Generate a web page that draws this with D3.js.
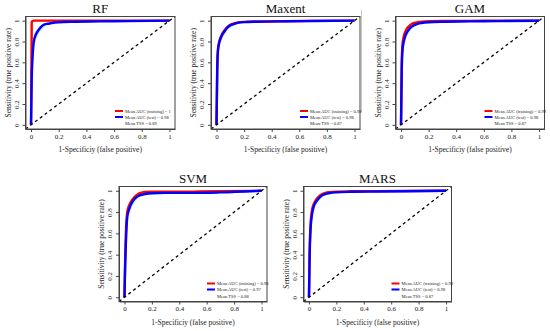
<!DOCTYPE html>
<html>
<head>
<meta charset="utf-8">
<script src="https://cdn.jsdelivr.net/npm/d3@7"></script>
<style>
  body { margin: 0; background: #fff; }
  svg { display: block; }
  svg text { font-family: "Times New Roman", "Liberation Serif", Times, serif; }
</style>
</head>
<body>
<svg id="chart" width="550" height="331"></svg>
<script>
// ---------------------------------------------
// DATA

var models = ["RF", "Maxent", "GAM", "SVM", "MARS"];
var ticks = [0, 0.2, 0.4, 0.6, 0.8, 1];
var tickLabels = ["0", "0.2", "0.4", "0.6", "0.8", "1"];

// false positive rate grid shared by every curve
var fpr = [0, 0.005, 0.01, 0.02, 0.03, 0.04, 0.06, 0.08, 0.1, 0.12, 0.15, 0.2, 0.3, 0.5, 0.7, 1];

var trainRF = [0, 0.99, 0.995, 1, 1, 1, 1, 1, 1, 1, 1, 1, 1, 1, 1, 1];
var testRF  = [0, 0.45, 0.62, 0.8, 0.85, 0.88, 0.92, 0.95, 0.965, 0.97, 0.978, 0.985, 0.99, 0.993, 0.996, 1];
var lowRF   = [0, 0.3, 0.5, 0.72, 0.79, 0.83, 0.88, 0.92, 0.945, 0.958, 0.968, 0.98, 0.987, 0.99, 0.994, 1];
var highRF  = [0, 0.6, 0.72, 0.86, 0.9, 0.92, 0.945, 0.965, 0.978, 0.982, 0.986, 0.99, 0.993, 0.996, 0.998, 1];

var trainMaxent = [0, 0.55, 0.72, 0.8, 0.84, 0.87, 0.91, 0.94, 0.96, 0.97, 0.98, 0.988, 0.992, 0.995, 0.998, 1];
var testMaxent  = [0, 0.5, 0.7, 0.79, 0.83, 0.86, 0.9, 0.935, 0.955, 0.965, 0.978, 0.986, 0.99, 0.994, 0.997, 1];
var lowMaxent   = [0, 0.4, 0.62, 0.73, 0.78, 0.82, 0.87, 0.91, 0.935, 0.95, 0.965, 0.98, 0.987, 0.992, 0.996, 1];
var highMaxent  = [0, 0.6, 0.77, 0.85, 0.88, 0.9, 0.93, 0.955, 0.975, 0.985, 0.99, 0.993, 0.995, 0.997, 0.999, 1];

var trainGAM = [0, 0.6, 0.76, 0.85, 0.89, 0.92, 0.95, 0.97, 0.98, 0.985, 0.99, 0.995, 0.997, 0.998, 0.999, 1];
var testGAM  = [0, 0.5, 0.7, 0.8, 0.85, 0.88, 0.92, 0.945, 0.96, 0.97, 0.978, 0.985, 0.99, 0.993, 0.996, 1];
var lowGAM   = [0, 0.4, 0.62, 0.74, 0.8, 0.84, 0.89, 0.92, 0.94, 0.955, 0.968, 0.978, 0.985, 0.99, 0.994, 1];
var highGAM  = [0, 0.6, 0.76, 0.85, 0.88, 0.91, 0.94, 0.96, 0.975, 0.982, 0.988, 0.992, 0.995, 0.997, 0.998, 1];

var trainSVM = [0, 0.35, 0.6, 0.8, 0.85, 0.88, 0.92, 0.95, 0.97, 0.98, 0.988, 0.99, 0.99, 0.992, 0.995, 1];
var testSVM  = [0, 0.3, 0.5, 0.75, 0.81, 0.85, 0.9, 0.93, 0.95, 0.96, 0.97, 0.977, 0.98, 0.98, 0.985, 1];
var lowSVM   = [0, 0.2, 0.4, 0.68, 0.76, 0.8, 0.86, 0.9, 0.93, 0.945, 0.958, 0.968, 0.972, 0.975, 0.982, 1];
var highSVM  = [0, 0.45, 0.62, 0.82, 0.86, 0.89, 0.93, 0.955, 0.97, 0.978, 0.984, 0.988, 0.99, 0.99, 0.992, 1];

var trainMARS = [0, 0.45, 0.65, 0.8, 0.86, 0.89, 0.93, 0.955, 0.97, 0.98, 0.987, 0.992, 0.995, 0.997, 0.998, 1];
var testMARS  = [0, 0.4, 0.6, 0.76, 0.83, 0.87, 0.91, 0.94, 0.96, 0.97, 0.978, 0.985, 0.99, 0.993, 0.996, 1];
var lowMARS   = [0, 0.3, 0.5, 0.7, 0.78, 0.83, 0.88, 0.92, 0.94, 0.955, 0.967, 0.978, 0.985, 0.99, 0.994, 1];
var highMARS  = [0, 0.5, 0.7, 0.83, 0.88, 0.91, 0.94, 0.96, 0.975, 0.983, 0.988, 0.992, 0.995, 0.997, 0.998, 1];

// legend values
var aucTrain = ["1", "0.98", "0.99", "0.98", "0.98"];
var aucTest  = ["0.98", "0.98", "0.98", "0.97", "0.98"];
var tss      = ["0.89", "0.87", "0.87", "0.88", "0.87"];

var curves = {
  RF:     [trainRF, testRF, lowRF, highRF],
  Maxent: [trainMaxent, testMaxent, lowMaxent, highMaxent],
  GAM:    [trainGAM, testGAM, lowGAM, highGAM],
  SVM:    [trainSVM, testSVM, lowSVM, highSVM],
  MARS:   [trainMARS, testMARS, lowMARS, highMARS]
};

// ---------------------------------------------
// LAYOUT (plot box of each panel)

var boxes = [
  {x: 25.5,  y: 16.5,  w: 149.5, h: 112.5},
  {x: 211,   y: 16.5,  w: 149,   h: 112.5},
  {x: 395.5, y: 16.5,  w: 149,   h: 112.5},
  {x: 119,   y: 186.5, w: 148,   h: 115},
  {x: 303.5, y: 186.5, w: 148,   h: 115}
];

var svg = d3.select("#chart");

// faint border left over from the pasted panel
svg.append("line")
  .attr("x1", 361.5).attr("x2", 361.5)
  .attr("y1", 10).attr("y2", 112)
  .attr("stroke", "#bbb").attr("stroke-width", 0.8);

models.forEach(function (name, i) {
  var b = boxes[i];
  var c = curves[name];
  var g = svg.append("g");

  var xScale = d3.scaleLinear().domain([-0.04, 1.04]).range([b.x, b.x + b.w]);
  var yScale = d3.scaleLinear().domain([-0.04, 1.04]).range([b.y + b.h, b.y]);

  var pts = function (tpr) {
    return fpr.map(function (f, k) { return [f, tpr[k]]; });
  };

  // confidence band of the test curve
  var area = d3.area()
    .curve(d3.curveMonotoneX)
    .x(function (d) { return xScale(d[0]); })
    .y0(function (d) { return yScale(d[1]); })
    .y1(function (d) { return yScale(d[2]); });

  g.append("path")
    .attr("d", area(fpr.map(function (f, k) { return [f, c[2][k], c[3][k]]; })))
    .attr("fill", "#c6e9f7")
    .attr("stroke", "none");

  var line = d3.line()
    .curve(d3.curveMonotoneX)
    .x(function (d) { return xScale(d[0]); })
    .y(function (d) { return yScale(d[1]); });

  g.append("path").attr("d", line(pts(c[0])))
    .attr("fill", "none").attr("stroke", "#ff0000").attr("stroke-width", 2.4);
  g.append("path").attr("d", line(pts(c[1])))
    .attr("fill", "none").attr("stroke", "#0000ff").attr("stroke-width", 2.4);

  // chance line across the whole plot region
  g.append("line")
    .attr("x1", xScale(-0.04)).attr("y1", yScale(-0.04))
    .attr("x2", xScale(1.04)).attr("y2", yScale(1.04))
    .attr("stroke", "#000").attr("stroke-width", 1.3)
    .attr("stroke-dasharray", "3,3");

  // box
  g.append("rect")
    .attr("x", b.x).attr("y", b.y).attr("width", b.w).attr("height", b.h)
    .attr("fill", "none").attr("stroke", "#444").attr("stroke-width", 1);

  // axes
  var xAxis = d3.axisBottom(xScale).tickValues(ticks)
    .tickFormat(function (d, k) { return tickLabels[k]; })
    .tickSizeInner(3).tickSizeOuter(0).tickPadding(2);
  var gx = g.append("g").attr("transform", "translate(0," + (b.y + b.h) + ")").call(xAxis);
  gx.attr("font-family", null);
  gx.select(".domain").attr("stroke", "#444");
  gx.selectAll(".tick line").attr("stroke", "#444");
  gx.selectAll("text").attr("font-size", 7).attr("fill", "#222");

  var yAxis = d3.axisLeft(yScale).tickValues(ticks)
    .tickFormat(function (d, k) { return tickLabels[k]; })
    .tickSizeInner(3).tickSizeOuter(0).tickPadding(2);
  var gy = g.append("g").attr("transform", "translate(" + b.x + ",0)").call(yAxis);
  gy.attr("font-family", null);
  gy.select(".domain").attr("stroke", "#444");
  gy.selectAll(".tick line").attr("stroke", "#444");
  gy.selectAll("text")
    .attr("font-size", 7).attr("fill", "#222")
    .attr("text-anchor", "middle").attr("dy", null).attr("x", null)
    .attr("transform", "translate(-7,0) rotate(-90)");

  // titles
  g.append("text")
    .attr("x", b.x + b.w / 2).attr("y", b.y - 4)
    .attr("text-anchor", "middle").attr("font-size", 13).attr("fill", "#111")
    .text(name);

  g.append("text")
    .attr("x", b.x + b.w / 2).attr("y", b.y + b.h + 23)
    .attr("text-anchor", "middle").attr("font-size", 7.5).attr("fill", "#222")
    .text("1-Specificiy (false positive)");

  g.append("text")
    .attr("transform", "translate(" + (b.x - 15) + "," + (b.y + b.h / 2) + ") rotate(-90)")
    .attr("text-anchor", "middle").attr("font-size", 7.5).attr("fill", "#222")
    .text("Sensitivity (true positive rate)");

  // legend
  var lx = b.x + b.w - 60;
  var rows = [
    {col: "#ff0000", txt: "Mean AUC (training) = " + aucTrain[i], dy: 18},
    {col: "#0000ff", txt: "Mean AUC (test) = " + aucTest[i], dy: 12},
    {col: null, txt: "Mean TSS = " + tss[i], dy: 5.5}
  ];
  rows.forEach(function (r) {
    var ly = b.y + b.h - r.dy;
    if (r.col) {
      g.append("line")
        .attr("x1", lx).attr("x2", lx + 8).attr("y1", ly).attr("y2", ly)
        .attr("stroke", r.col).attr("stroke-width", 2);
    }
    g.append("text")
      .attr("x", lx + 10).attr("y", ly + 1.5)
      .attr("font-size", 4.5).attr("fill", "#222")
      .text(r.txt);
  });
});
</script>
</body>
</html>
